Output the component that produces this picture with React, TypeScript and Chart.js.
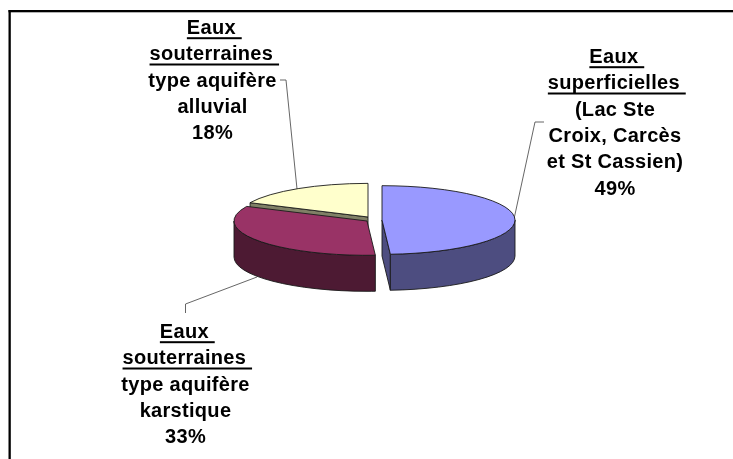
import React, { useEffect, useRef } from "react";
import { Chart, registerables } from "chart.js";

Chart.register(...registerables);

const categories = ["Eaux superficielles", "Eaux souterraines karstique", "Eaux souterraines alluvial"];
const shares = [49, 33, 18];
const topColors = ["#9999FF", "#993366", "#FFFFCC"];
const sideColors = ["#4D4D80", "#4D1A33", "#808066"];
const labelLines = [
  ["Eaux ", "superficielles ", "(Lac Ste", "Croix, Carcès", "et St Cassien)", "49%"],
  ["Eaux ", "souterraines ", "type aquifère", "karstique", "33%"],
  ["Eaux ", "souterraines ", "type aquifère", "alluvial", "18%"],
];
const underlinedCounts = [2, 2, 2];
const labelAnchors = [
  { x: 615, y: 63 },
  { x: 185.5, y: 338 },
  { x: 212.5, y: 34 },
];
const leaders = [
  [[544, 122], [535, 122], [514, 219]],
  [[185.5, 313], [185.5, 304], [257, 277]],
  [[280, 80], [286, 80], [297, 189]],
];
const sliceShift = [
  { dx: 7, dy: 0, scale: 1 },
  { dx: -8, dy: 1, scale: 1 },
  { dx: -7, dy: -3, scale: 0.98 },
];
const SQUASH = 0.258;
const DEPTH = 36;
const LINE_H = 26.3;
const FONT = 'bold 20px "Liberation Sans"';
const TRACKING = "0.3px";
const UNDERLINED_SHIFT = 1.8;

const pie3d = {
  id: "pie3d",
  beforeDraw(chart: any) {
    const { ctx, width, height } = chart;
    ctx.save();
    ctx.fillStyle = "#ffffff";
    ctx.fillRect(0, 0, width, height);
    ctx.fillStyle = "#000000";
    ctx.fillRect(8.5, 10, 2.3, height - 10);
    ctx.fillRect(8.5, 10, width - 8.5, 2.3);
    ctx.restore();
  },
  beforeDatasetsDraw(chart: any) {
    const { ctx } = chart;
    const arcs = chart.getDatasetMeta(0).data;
    const geo = arcs.map((a: any, i: number) => {
      const p = a.getProps(["x", "y", "startAngle", "endAngle", "outerRadius"], true);
      const s = sliceShift[i];
      return {
        cx: p.x + s.dx,
        cy: p.y + s.dy,
        rx: p.outerRadius * s.scale,
        ry: p.outerRadius * s.scale * SQUASH,
        a0: p.startAngle,
        a1: p.endAngle,
      };
    });
    ctx.save();
    ctx.lineWidth = 0.9;
    ctx.strokeStyle = "#1a1a1a";
    ctx.lineJoin = "round";

    // leader lines sit behind the pie
    ctx.save();
    ctx.strokeStyle = "#555555";
    leaders.forEach((pts) => {
      ctx.beginPath();
      pts.forEach(([x, y], k) => (k ? ctx.lineTo(x, y) : ctx.moveTo(x, y)));
      ctx.stroke();
    });
    ctx.restore();

    const cutWall = (g: any, ang: number, color: string) => {
      const ex = g.cx + g.rx * Math.cos(ang);
      const ey = g.cy + g.ry * Math.sin(ang);
      ctx.beginPath();
      ctx.moveTo(g.cx, g.cy);
      ctx.lineTo(ex, ey);
      ctx.lineTo(ex, ey + DEPTH);
      ctx.lineTo(g.cx, g.cy + DEPTH);
      ctx.closePath();
      ctx.fillStyle = color;
      ctx.fill();
      ctx.stroke();
    };
    const outerWall = (g: any, color: string) => {
      [0, Math.PI * 2].forEach((shift) => {
        const lo = Math.max(g.a0, shift);
        const hi = Math.min(g.a1, shift + Math.PI);
        if (hi <= lo) return;
        ctx.beginPath();
        ctx.ellipse(g.cx, g.cy, g.rx, g.ry, 0, lo, hi);
        ctx.ellipse(g.cx, g.cy + DEPTH, g.rx, g.ry, 0, hi, lo, true);
        ctx.closePath();
        ctx.fillStyle = color;
        ctx.fill();
        ctx.stroke();
      });
    };
    const topFace = (g: any, color: string) => {
      ctx.beginPath();
      ctx.moveTo(g.cx, g.cy);
      ctx.ellipse(g.cx, g.cy, g.rx, g.ry, 0, g.a0, g.a1);
      ctx.closePath();
      ctx.fillStyle = color;
      ctx.fill();
      ctx.stroke();
    };

    [2, 1, 0].forEach((i) => {
      const g = geo[i];
      if (i === 0) cutWall(g, g.a1, sideColors[i]);
      if (i === 2) cutWall(g, g.a0, sideColors[i]);
      outerWall(g, sideColors[i]);
      topFace(g, topColors[i]);
    });
    ctx.restore();
    return false;
  },
  afterDraw(chart: any) {
    const { ctx } = chart;
    ctx.save();
    ctx.font = FONT;
    ctx.letterSpacing = TRACKING;
    ctx.fillStyle = "#000000";
    ctx.textAlign = "center";
    ctx.textBaseline = "alphabetic";
    labelLines.forEach((lines, i) => {
      lines.forEach((line, k) => {
        const y = labelAnchors[i].y + k * LINE_H;
        const under = k < underlinedCounts[i];
        const x = labelAnchors[i].x + (under ? UNDERLINED_SHIFT : 0);
        ctx.fillText(line, x, y);
        if (under) {
          const w = ctx.measureText(line).width;
          ctx.fillRect(x - w / 2, y + 3.2, w, 2);
        }
      });
    });
    ctx.restore();
  },
};

export default function App() {
  const ref = useRef<HTMLCanvasElement>(null);
  useEffect(() => {
    const chart = new Chart(ref.current as HTMLCanvasElement, {
      type: "pie",
      data: {
        labels: categories,
        datasets: [{ data: shares, backgroundColor: topColors, borderWidth: 0 }],
      },
      options: {
        animation: false,
        responsive: false,
        rotation: 0,
        layout: { padding: { left: 242, right: 225, top: 87, bottom: 106 } },
        plugins: { legend: { display: false }, tooltip: { enabled: false } },
      },
      plugins: [pie3d],
    } as any);
    return () => chart.destroy();
  }, []);
  return (
    <div style={{ position: "fixed", left: 0, top: 0, width: 733, height: 459 }}>
      <canvas ref={ref} width={733} height={459} style={{ display: "block" }} />
    </div>
  );
}
